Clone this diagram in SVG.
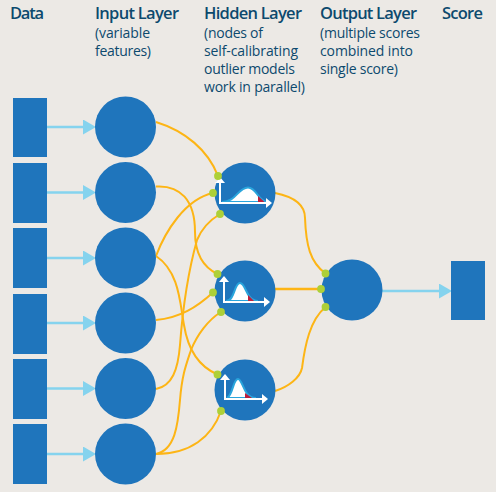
<svg xmlns="http://www.w3.org/2000/svg" width="496" height="492" viewBox="0 0 496 492">
<style>
.h{font:600 16.5px "Open Sans","Noto Sans",sans-serif;fill:#0d4a6e}
.s{font:400 14px "Open Sans","Noto Sans",sans-serif;fill:#0d4a6e}
.b{fill:#1f75bc}
.c{fill:none;stroke:#fdb515;stroke-width:2}
.a{fill:none;stroke:#85d3ee;stroke-width:2.4}
.d{fill:#add038}
.ax{fill:none;stroke:#fff;stroke-width:2}
.hump{fill:#fff;stroke:#2aa5dc;stroke-width:2}
.red{fill:#be1e3c}
.wh{fill:#fff}
</style>
<defs>
<marker id="ar" markerUnits="userSpaceOnUse" markerWidth="13" markerHeight="16" refX="0" refY="7.5" orient="auto"><path d="M0 0L13 7.5L0 15Z" fill="#85d3ee"/></marker>
</defs>
<rect width="496" height="492" fill="#ece9e5"/>
<g id="headers">
<text class="h" x="10" y="19" textLength="34">Data</text>
<text class="h" x="95" y="19" textLength="84">Input Layer</text>
<text class="s" x="95" y="37.500" textLength="55">(variable</text>
<text class="s" x="95" y="55.500" textLength="56">features)</text>
<text class="h" x="204" y="19" textLength="98">Hidden Layer</text>
<text class="s" x="204" y="37.500" textLength="59">(nodes of</text>
<text class="s" x="204" y="55.500" textLength="94">self-calibrating</text>
<text class="s" x="204" y="73.500" textLength="91">outlier models</text>
<text class="s" x="204" y="92" textLength="101">work in parallel)</text>
<text class="h" x="320" y="19" textLength="97">Output Layer</text>
<text class="s" x="320" y="37.500" textLength="100">(multiple scores</text>
<text class="s" x="320" y="55.500" textLength="93">combined into</text>
<text class="s" x="320" y="73.500" textLength="78">single score)</text>
<text class="h" x="442" y="19" textLength="41">Score</text>
</g>
<g id="connectors">
<path class="a" d="M47 127H83" marker-end="url(#ar)"/>
<path class="a" d="M47 192.500H83" marker-end="url(#ar)"/>
<path class="a" d="M47 258H83" marker-end="url(#ar)"/>
<path class="a" d="M47 323H83" marker-end="url(#ar)"/>
<path class="a" d="M47 388.500H83" marker-end="url(#ar)"/>
<path class="a" d="M47 454H83" marker-end="url(#ar)"/>
<path class="a" d="M382 291H439" marker-end="url(#ar)"/>
<path class="c" d="M156 122C185 131 208 150 218 176"/>
<path class="c" d="M156 186.500C180 185 195 200 195 232C195 255 205 268 217.500 274"/>
<path class="c" d="M156 256C165 232 185 199 213 193"/>
<path class="c" d="M156 256C180 272 180 305 184 325C188 350 200 367 217.500 374.500"/>
<path class="c" d="M156 320C180 318 197 307 213 292.500"/>
<path class="c" d="M156 389C172 386 178 370 180 345C183 305 190 265 197 240C202 228 210 220 220 214"/>
<path class="c" d="M156 454C175 450 178 425 180 400C182 375 186 365 191 350C197 335 208 320 221 312"/>
<path class="c" d="M156 454C190 454 212 437 221 411"/>
<path class="c" d="M275 193C290 196 305 203 305 218C306 245 310 262 325.500 273.500"/>
<path class="c" stroke-width="2.500" d="M275 289H321" style="stroke-width:2.500"/>
<path class="c" d="M275 391C288 387 300 378 302 368C305 345 310 320 325.500 307"/>
</g>
<g id="data-1"><rect class="b" x="13" y="98" width="34" height="59"/></g>
<g id="data-2"><rect class="b" x="13" y="163" width="34" height="60"/></g>
<g id="data-3"><rect class="b" x="13" y="228" width="34" height="60"/></g>
<g id="data-4"><rect class="b" x="13" y="294" width="34" height="60"/></g>
<g id="data-5"><rect class="b" x="13" y="359" width="34" height="60"/></g>
<g id="data-6"><rect class="b" x="13" y="424" width="34" height="60"/></g>
<g id="input-1"><circle class="b" cx="125.500" cy="127" r="30.500"/></g>
<g id="input-2"><circle class="b" cx="125.500" cy="192.500" r="30.500"/></g>
<g id="input-3"><circle class="b" cx="125.500" cy="258" r="30.500"/></g>
<g id="input-4"><circle class="b" cx="125.500" cy="323" r="30.500"/></g>
<g id="input-5"><circle class="b" cx="125.500" cy="388.500" r="30.500"/></g>
<g id="input-6"><circle class="b" cx="125.500" cy="454" r="30.500"/></g>
<g id="hidden-1">
<circle class="b" cx="245" cy="193" r="30.500"/>
<path class="hump" d="M222 202C236 202 238 187.500 248 187.500C257 187.500 258 202 268 202Z"/>
<path class="red" d="M258 196L265 202.500H258Z"/>
<path class="ax" d="M220 181V203H267"/>
<path class="wh" d="M220 177L225 183H215Z"/>
<path class="wh" d="M272 203L266 198V208Z"/>
<circle class="d" cx="218" cy="176" r="3.900"/><circle class="d" cx="213" cy="193" r="3.900"/><circle class="d" cx="220" cy="214" r="3.900"/>
</g>
<g id="hidden-2">
<circle class="b" cx="245" cy="291" r="30.500"/>
<path class="hump" d="M226 301C235 301 234 283 240 283C246 283 246 301 258 301Z"/>
<path class="red" d="M248 295L254 301H248Z"/>
<path class="ax" d="M224 281V302H266"/>
<path class="wh" d="M224 276L229 282H219Z"/>
<path class="wh" d="M270 302L264 297V307Z"/>
<circle class="d" cx="217.500" cy="274" r="3.900"/><circle class="d" cx="213" cy="292.500" r="3.900"/><circle class="d" cx="221" cy="312" r="3.900"/>
</g>
<g id="hidden-3">
<circle class="b" cx="245" cy="390" r="30.500"/>
<path class="hump" d="M227 398C233 395 233 379 238 379C243 379 243 398 256 398Z"/>
<path class="red" d="M245 393L252 398H245Z"/>
<path class="ax" d="M225 379V399H264"/>
<path class="wh" d="M225 374L230 380H220Z"/>
<path class="wh" d="M268 399L262 394V404Z"/>
<circle class="d" cx="217.500" cy="374.500" r="3.900"/><circle class="d" cx="221" cy="411" r="3.900"/>
</g>
<g id="output">
<circle class="b" cx="352" cy="290" r="30.500"/>
<circle class="d" cx="325.500" cy="273.500" r="3.900"/><circle class="d" cx="321" cy="289" r="3.900"/><circle class="d" cx="325.500" cy="307" r="3.900"/>
</g>
<g id="score"><rect class="b" x="451" y="261" width="34" height="59"/></g>
</svg>
